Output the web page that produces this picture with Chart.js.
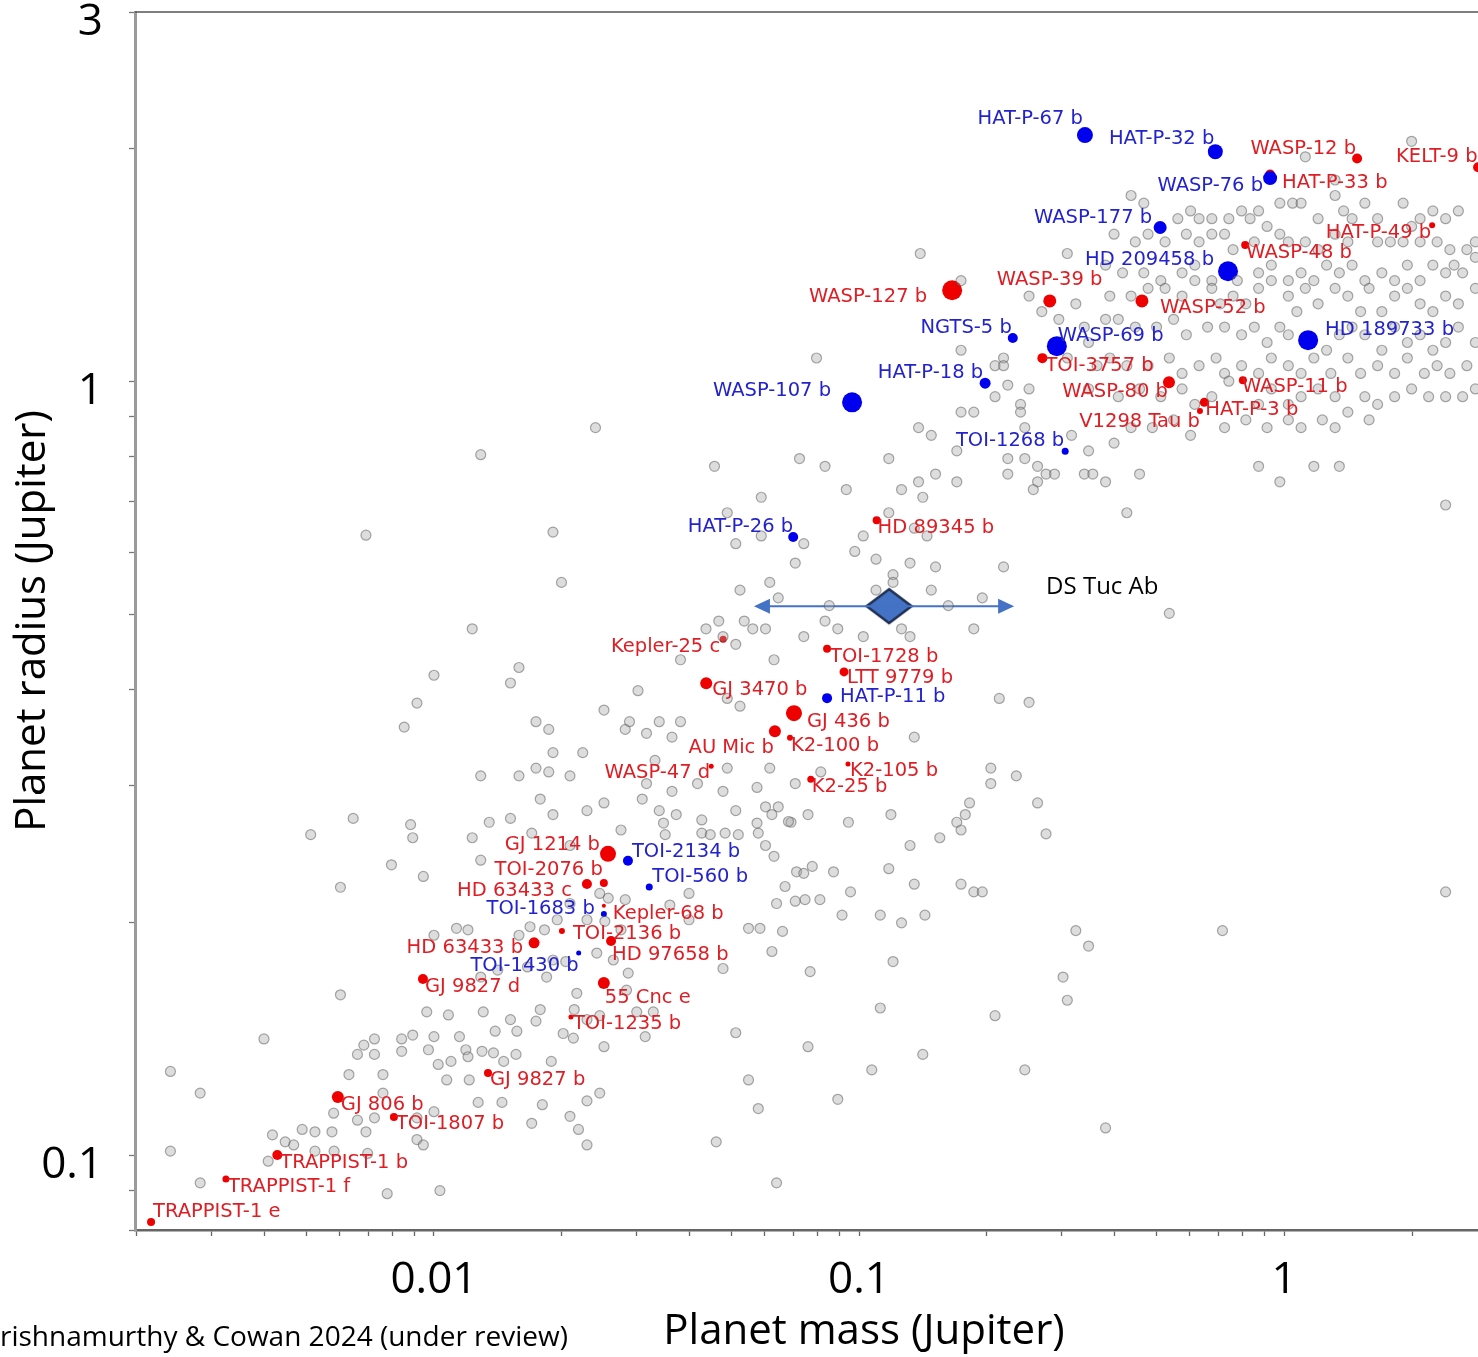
<!DOCTYPE html>
<html>
<head>
<meta charset="utf-8">
<script src="https://cdn.jsdelivr.net/npm/chart.js@4.4.1/dist/chart.umd.min.js"></script>
<style>
html,body{margin:0;padding:0;background:#fff;overflow:hidden;}
#wrap{position:relative;width:1600px;height:1357px;}
</style>
</head>
<body>
<div id="wrap"><canvas id="c" width="1600" height="1357"></canvas></div>
<script>
// ---- Background planets: [log10 mass (MJ), log10 radius (RJ)] ----
const greyUpper = [
[-0.36,0.24],[-0.33,0.23],[-0.22,0.22],[-0.25,0.21],[-0.20,0.21],[-0.17,0.21],[-0.13,0.21],[-0.10,0.22],[-0.08,0.21],[-0.06,0.22],[-0.01,0.23],[0.02,0.23],[0.04,0.23],[0.08,0.21],[0.12,0.24],[0.14,0.22],[0.16,0.21],[0.19,0.23],[0.22,0.21],[0.28,0.23],[0.30,0.20],[0.32,0.21],[0.35,0.22],[0.38,0.21],[0.41,0.22],[0.05,0.29],[0.30,0.31],[0.12,0.26],
[-0.40,0.19],[-0.35,0.18],[-0.32,0.19],[-0.28,0.18],[-0.23,0.19],[-0.20,0.18],[-0.17,0.19],[-0.14,0.19],[-0.12,0.17],[-0.07,0.18],[-0.04,0.20],[-0.01,0.19],[0.01,0.18],[0.05,0.18],[0.08,0.17],[0.12,0.19],[0.15,0.18],[0.22,0.18],[0.25,0.18],[0.28,0.18],[0.32,0.18],[0.36,0.18],[0.39,0.17],[0.43,0.17],[0.45,0.18],
[-0.42,0.15],[-0.38,0.14],[-0.33,0.14],[-0.29,0.13],[-0.24,0.14],[-0.21,0.15],[-0.17,0.13],[-0.11,0.13],[-0.06,0.14],[-0.03,0.15],[0.01,0.13],[0.04,0.14],[0.07,0.13],[0.10,0.15],[0.13,0.14],[0.16,0.15],[0.19,0.13],[0.23,0.14],[0.26,0.13],[0.29,0.15],[0.32,0.13],[0.35,0.15],[0.38,0.14],[0.40,0.15],[0.42,0.14],[0.45,0.16],
[-0.41,0.11],[-0.36,0.11],[-0.32,0.12],[-0.28,0.12],[-0.24,0.11],[-0.21,0.13],[-0.17,0.12],[-0.15,0.10],[-0.12,0.11],[-0.09,0.10],[-0.06,0.12],[-0.03,0.13],[0.01,0.11],[0.03,0.09],[0.05,0.12],[0.08,0.10],[0.12,0.12],[0.15,0.11],[0.18,0.09],[0.20,0.12],[0.23,0.09],[0.26,0.11],[0.29,0.12],[0.32,0.10],[0.35,0.09],[0.38,0.11],[0.41,0.10],[0.45,0.12],
[-0.42,0.08],[-0.39,0.08],[-0.35,0.07],[-0.30,0.07],[-0.26,0.08],[-0.23,0.06],[-0.18,0.07],[-0.14,0.07],[-0.10,0.06],[-0.07,0.07],[-0.04,0.05],[-0.01,0.07],[0.01,0.06],[0.10,0.04],[0.13,0.06],[0.16,0.07],[0.19,0.06],[0.23,0.04],[0.26,0.07],[0.29,0.05],[0.32,0.06],[0.35,0.04],[0.38,0.05],[0.41,0.07],[0.45,0.05],
[-0.41,0.03],[-0.37,0.02],[-0.32,0.02],[-0.27,0.03],[-0.24,0.01],[-0.20,0.02],[-0.16,0.03],[-0.14,0.01],[-0.10,0.02],[-0.06,0.01],[-0.03,0.03],[0.01,0.02],[0.04,0.01],[0.07,0.03],[0.11,0.01],[0.15,0.03],[0.18,0.01],[0.22,0.02],[0.26,0.01],[0.29,0.03],[0.33,0.01],[0.36,0.02],[0.39,0.01],[0.43,0.02],
[-0.39,-0.02],[-0.34,-0.01],[-0.29,-0.02],[-0.24,-0.01],[-0.21,-0.03],[-0.17,-0.02],[-0.13,0.00],[-0.06,-0.03],[-0.03,-0.01],[0.01,-0.03],[0.04,-0.02],[0.08,-0.01],[0.12,-0.02],[0.15,-0.04],[0.19,-0.02],[0.22,-0.03],[0.26,-0.02],[0.30,-0.01],[0.34,-0.02],[0.38,-0.02],[0.42,-0.02],[0.45,-0.01],
[-0.40,-0.08],[-0.36,-0.06],[-0.31,-0.06],[-0.26,-0.05],[-0.22,-0.07],[-0.14,-0.06],[-0.09,-0.05],[-0.04,-0.06],[0.01,-0.05],[0.04,-0.06],[0.09,-0.05],[0.12,-0.06],[0.20,-0.05],
[-0.34,-0.12],[-0.42,-0.13],[-0.37,-0.17],[-0.06,-0.11],[-0.01,-0.13],[0.07,-0.11],[0.13,-0.11],[0.38,-0.16],
[-0.51,0.165],[-0.53,0.08],[-0.49,0.10],[-0.47,0.07],[-0.46,0.05],[-0.46,-0.01],[-0.51,0.03],[-0.44,0.02],[-0.856,0.165]
];
const greyMiddle = [
[-0.76,0.13],[-0.60,0.11],[-0.57,0.09],[-0.76,0.04],[-0.66,0.03],[-0.68,0.02],[-0.66,0.02],[-0.65,-0.005],[-0.60,-0.01],[-0.68,-0.02],[-0.62,-0.03],[-0.73,-0.04],[-0.76,-0.04],[-0.62,-0.04],[-0.61,-0.06],[-0.86,-0.06],[-0.83,-0.07],[-0.77,-0.09],[-0.65,-0.10],[-0.61,-0.10],[-0.58,-0.11],[-0.56,-0.12],[-0.65,-0.12],[-0.58,-0.13],[-0.59,-0.14],[-0.82,-0.12],[-0.77,-0.13],[-0.86,-0.13],[-0.90,-0.14],[-0.85,-0.15],[-0.93,-0.10],[-1.03,-0.14],[-1.08,-0.11],[-1.14,-0.10],[-1.34,-0.11],[-1.23,-0.15],[-1.62,-0.06],[-1.10,0.03],[-0.99,-0.20],[-1.01,-0.22],[-0.93,-0.17],[-1.29,-0.21],[-1.23,-0.20],[-1.13,-0.21],[-0.87,-0.19],[-0.84,-0.20],
[-0.46,-0.09],[-0.50,-0.07],[-0.47,-0.12],[-0.45,-0.12],[-0.54,-0.12],[-0.96,-0.23],[-0.88,-0.235],[-0.82,-0.24],[-0.66,-0.24],[-0.92,-0.25],[-0.92,-0.26],[-0.96,-0.27],[-0.83,-0.27],[-0.90,-0.32],[-0.88,-0.33],[-0.99,-0.33],[-0.79,-0.29],[-0.71,-0.28],[-0.73,-0.32],[-0.27,-0.30],[-0.67,-0.41],[-0.60,-0.415],[-0.87,-0.46],[-0.69,-0.50],[-0.69,-0.52],[-0.63,-0.51],[-0.58,-0.545],[-0.74,-0.545],[-0.75,-0.56],[-0.77,-0.57],[-0.76,-0.58],[-0.56,-0.585],[-0.925,-0.56],[-1.025,-0.57],[-0.81,-0.59],[-0.88,-0.60],[-0.93,-0.63],[-0.87,-0.65],[-0.76,-0.65],[-0.73,-0.66],[-0.71,-0.66],[-1.02,-0.66],[-1.04,-0.69],[-0.95,-0.69],[-0.90,-0.70],[-0.845,-0.69],[-0.49,-0.71],[-0.46,-0.73],[-0.145,-0.71],[0.38,-0.66],[-0.92,-0.75],[-0.52,-0.77],[-0.51,-0.80],[-0.95,-0.81],[-0.68,-0.82],[-0.85,-0.87],[-0.97,-0.89],[-0.61,-0.89],[-0.42,-0.965],
[-1.89,-0.095],[-1.72,-0.195],[-1.31,-0.17],[-1.15,-0.235],[-1.70,-0.26],[-1.28,-0.27],[-1.21,-0.26],[-1.19,-0.28],[-1.07,-0.29],[-1.91,-0.32],[-1.36,-0.32],[-1.33,-0.31],[-1.32,-0.33],[-1.27,-0.31],[-1.25,-0.32],[-1.22,-0.32],[-1.13,-0.33],[-1.08,-0.31],[-1.05,-0.32],[-1.29,-0.34],[-1.42,-0.36],[-1.20,-0.36],[-2.00,-0.38],[-1.82,-0.39],[-1.80,-0.37],[-1.52,-0.40],[-1.31,-0.41],[-1.28,-0.42],[-1.60,-0.425],[-1.76,-0.44],[-1.73,-0.45],[-1.54,-0.44],[-1.47,-0.44],[-1.42,-0.44],[-1.55,-0.45],[-1.50,-0.455],[-1.44,-0.46],[-1.72,-0.48],[-1.65,-0.48],[-1.89,-0.51],[-1.80,-0.51],[-1.76,-0.50],[-1.73,-0.505],[-1.68,-0.51],[-1.48,-0.49],[-1.50,-0.52],[-1.60,-0.545],[-1.44,-0.53],[-1.38,-0.52],[-1.32,-0.53],[-1.31,-0.50],[-1.24,-0.525],[-1.21,-0.50],[-1.15,-0.52],[-1.09,-0.505],[-1.75,-0.54],[-1.72,-0.56],[-1.82,-0.565],[-1.87,-0.57],[-1.64,-0.555],[-1.51,-0.54],[-1.47,-0.555],[-1.43,-0.56],[-1.37,-0.567],[-1.29,-0.555],[-1.22,-0.55],[-1.205,-0.56],[-1.19,-0.55],[-1.16,-0.57],[-1.12,-0.56],
[-2.04,-0.416],[-2.07,-0.447],[-2.19,-0.565],[-2.16,-0.199]
];
const greyLower = [
[-2.29,-0.586],[-2.055,-0.573],[-2.05,-0.59],[-2.10,-0.625],[-2.22,-0.654],[-2.22,-0.793],[-2.40,-0.85],[-2.14,-0.85],[-2.165,-0.858],[-2.18,-0.87],[-2.14,-0.87],[-2.076,-0.85],[-2.05,-0.845],[-2.076,-0.866],[-2.20,-0.896],[-2.12,-0.896],[-2.62,-0.892],[-2.55,-0.92],[-2.236,-0.946],[-2.18,-0.955],[-2.16,-0.97],[-2.14,-0.952],[-2.12,-0.92],[-2.04,-0.952],[-2.04,-0.98],[-2.31,-0.967],[-2.28,-0.97],[-2.24,-0.97],[-2.38,-0.974],[-2.35,-0.983],[-2.33,-0.987],[-2.28,-0.995],[-2.39,-1.008],[-2.235,-0.995],[-2.156,-0.998],[-2.62,-0.995],[-2.55,-1.036],[-2.11,-1.05],
[-2.025,-0.987],[-1.986,-1.046],[-1.896,-0.932],[-1.84,-0.932],[-1.745,-0.935],[-1.64,-0.93],[-1.61,-0.92],[-1.68,-0.95],[-1.66,-0.967],[-1.64,-0.987],[-1.77,-0.959],[-2.00,-0.944],[-1.97,-0.903],[-1.917,-0.903],[-1.724,-0.879],[-1.836,-0.879],[-1.99,-0.883],[-1.96,-0.879],[-1.925,-0.864],[-1.92,-0.873],[-1.887,-0.866],[-1.86,-0.868],[-1.807,-0.87],[-2.013,-0.864],
[-1.91,-0.59],[-2.025,-0.64],[-1.89,-0.619],[-1.77,-0.584],[-1.68,-0.60],[-1.56,-0.58],[-1.61,-0.662],[-1.55,-0.67],[-1.68,-0.675],[-1.774,-0.705],[-1.80,-0.716],[-1.74,-0.709],[-1.71,-0.696],[-1.64,-0.696],[-1.598,-0.698],[-1.56,-0.709],[-2.00,-0.716],[-1.947,-0.707],[-1.92,-0.709],[-1.617,-0.739],[-1.578,-0.748],[-1.543,-0.765],[-1.78,-0.757],[-1.72,-0.748],[-1.69,-0.75],[-1.735,-0.77],[-1.89,-0.77],[-1.85,-0.761],[-1.664,-0.791],[-1.547,-0.787],[-1.67,-0.812],[-1.64,-0.825],[-1.61,-0.82],[-1.523,-0.815],[-1.76,-0.827],[-1.75,-0.812],[-1.82,-0.825],[-1.884,-0.815],[-2.017,-0.815],[-1.966,-0.819],[-1.856,-0.84],[-1.805,-0.84],[-1.696,-0.843],[-1.672,-0.849],[-1.60,-0.86],[-1.94,-0.847],[-2.00,-0.847],[-1.59,-0.668],
[-1.46,-0.571],[-1.456,-0.586],[-1.37,-0.584],[-1.35,-0.586],[-1.315,-0.584],[-1.284,-0.586],[-1.24,-0.571],[-1.237,-0.584],[-1.22,-0.60],[-1.20,-0.614],[-1.166,-0.569],[-1.147,-0.634],[-1.13,-0.636],[-1.11,-0.627],[-1.06,-0.634],[-1.174,-0.653],[-1.194,-0.675],[-1.15,-0.672],[-1.127,-0.67],[-1.092,-0.67],[-1.26,-0.707],[-1.233,-0.707],[-1.18,-0.711],[-1.205,-0.737],[-1.115,-0.763],[-1.32,-0.759],[-1.29,-0.842],[-1.12,-0.86],[-1.26,-0.903],[-1.05,-0.928],[-1.237,-0.94],[-1.336,-0.983],[-1.194,-1.036],[-1.40,-0.662],[-1.445,-0.677],[-1.40,-0.696],[-1.503,-0.847],[-1.484,-0.815]
];

// ---- Highlighted planets (mass in MJ, radius in RJ) ----
const redNames = ['WASP-12 b','KELT-9 b','HAT-P-33 b','HAT-P-49 b','WASP-48 b','WASP-39 b','WASP-127 b','WASP-52 b','TOI-3757 b','WASP-80 b','WASP-11 b','HAT-P-3 b','V1298 Tau b','HD 89345 b','Kepler-25 c','TOI-1728 b','LTT 9779 b','GJ 3470 b','GJ 436 b','AU Mic b','K2-100 b','K2-105 b','K2-25 b','WASP-47 d','GJ 1214 b','TOI-2076 b','HD 63433 c','Kepler-68 b','TOI-2136 b','HD 97658 b','HD 63433 b','GJ 9827 d','55 Cnc e','TOI-1235 b','GJ 9827 b','GJ 806 b','TOI-1807 b','TRAPPIST-1 b','TRAPPIST-1 f','TRAPPIST-1 e'];
const redMass = [1.485,2.86,0.927,2.23,0.81,0.281,0.1656,0.463,0.27,0.536,0.80,0.649,0.634,0.110,0.0479,0.0841,0.0922,0.0437,0.0703,0.0634,0.0688,0.0942,0.077,0.0449,0.02567,0.0251,0.0229,0.0251,0.0200,0.0261,0.0172,0.00942,0.0251,0.0210,0.0134,0.00594,0.00805,0.00428,0.00324,0.00216];
const redRadius = [1.94,1.89,1.85,1.59,1.50,1.27,1.311,1.27,1.071,0.997,1.003,0.939,0.915,0.661,0.464,0.451,0.421,0.407,0.3724,0.353,0.346,0.320,0.306,0.318,0.245,0.2246,0.224,0.210,0.1948,0.189,0.188,0.1688,0.1668,0.1508,0.1276,0.1188,0.112,0.100,0.0931,0.0819];

const blueNames = ['HAT-P-67 b','HAT-P-32 b','WASP-76 b','WASP-177 b','HD 209458 b','NGTS-5 b','WASP-69 b','HD 189733 b','HAT-P-18 b','WASP-107 b','TOI-1268 b','HAT-P-26 b','HAT-P-11 b','TOI-2134 b','TOI-560 b','TOI-1683 b','TOI-1430 b'];
const blueMass = [0.340,0.689,0.927,0.511,0.738,0.230,0.292,1.139,0.198,0.0963,0.3055,0.070,0.0841,0.0286,0.0321,0.0251,0.0219];
const blueRadius = [2.08,1.98,1.83,1.58,1.387,1.137,1.11,1.13,0.994,0.939,0.812,0.629,0.3894,0.240,0.222,0.2048,0.1824];

const dsTucName = 'DS Tuc Ab';
const dsTucMass = [0.1177];
const dsTucRadius = [0.512];
const dsTucMassRange = [0.0566, 0.2317];

// ---- Axis ticks ----
const xTickValues = [0.002,0.003,0.004,0.005,0.006,0.007,0.008,0.009,0.01,0.02,0.03,0.04,0.05,0.06,0.07,0.08,0.09,0.1,0.2,0.3,0.4,0.5,0.6,0.7,0.8,0.9,1,2,3,4,5];
const xLabelValues = [0.01, 0.1, 1];
const xLabelTexts = ['0.01', '0.1', '1'];
const yTickValues = [0.08,0.09,0.1,0.2,0.3,0.4,0.5,0.6,0.7,0.8,0.9,1,2,3];
const yLabelValues = [0.1, 1, 3];
const yLabelTexts = ['0.1', '1', '3'];

// ---- Styles (kept apart from data) ----
const redSize = [5,5,5,3,4,6.5,10,6.5,5,6,4,4.5,3,4,3.5,4,4.5,6,8,6,3,2.5,3.5,2.5,8,4,5,2,3,5,5.5,5,6,2.5,4,6,4,5,3.5,4];
const blueSize = [8,7.5,7,6.5,10,5,10,10,5.5,10,3.5,5,5,5,3.5,3,2.5];
// label offsets in px from the marker: [dx, dy, side]; 'L' = text ends at dx, 'R' = text starts at dx
const redLabelPos = [[-1,-10,'L'],[-82,-10,'R'],[12,8,'R'],[-1,8,'L'],[1,8,'R'],[-53,-21,'R'],[-25,7,'L'],[18,7,'R'],[3,8,'R'],[-1,10,'L'],[-1,7,'R'],[1,8,'R'],[0,11,'L'],[1,8,'R'],[-3,8,'L'],[3,8,'R'],[3,6,'R'],[6,7,'R'],[13,9,'R'],[-1,17,'L'],[1,8,'R'],[2,7,'R'],[1,8,'R'],[-1,7,'L'],[-8,-9,'L'],[-1,-13,'L'],[-15,7,'L'],[9,8,'R'],[11,3,'R'],[1,14,'R'],[-11,5,'L'],[2,8,'R'],[1,15,'R'],[2,7,'R'],[2,7,'R'],[3,8,'R'],[2,7,'R'],[3,8,'R'],[2,8,'R'],[2,-10,'R']];
const blueLabelPos = [[-2,-16,'L'],[-1,-13,'L'],[-7,8,'L'],[-8,-10,'L'],[-14,-11,'L'],[-1,-10,'L'],[1,-10,'R'],[17,-10,'R'],[-2,-10,'L'],[-21,-11,'L'],[-1,-10,'L'],[0,-10,'L'],[13,-1,'R'],[4,-9,'R'],[3,-10,'R'],[-9,-5,'L'],[0,13,'L']];

const RED_PT = '#ee0000', BLUE_PT = '#0000ee';
const RED_TXT = 'rgb(222,30,36)', BLUE_TXT = 'rgb(35,35,205)';
const DS_FILL = '#4472C4', DS_EDGE = '#1f2f50';

function toPts(arr) { return arr.map(p => ({x: Math.pow(10, p[0]), y: Math.pow(10, p[1])})); }
function pair(m, r) { return m.map((v, i) => ({x: v, y: r[i]})); }
function labelFor(v, vals, texts) {
  for (let i = 0; i < vals.length; i++) if (Math.abs(v - vals[i]) / vals[i] < 1e-6) return texts[i];
  return '';
}

function diamondCanvas() {
  const c = document.createElement('canvas');
  c.width = 50; c.height = 40;
  const g = c.getContext('2d');
  g.beginPath();
  g.moveTo(25, 3); g.lineTo(47.5, 20); g.lineTo(25, 37); g.lineTo(2.5, 20); g.closePath();
  g.fillStyle = DS_FILL; g.fill();
  g.lineWidth = 2.5; g.strokeStyle = DS_EDGE; g.lineJoin = 'miter'; g.stroke();
  return c;
}

const annotPlugin = {
  id: 'annot',
  afterDatasetDraw(chart, args) {
    if (args.index !== 2) return;
    const xs = chart.scales.x, ys = chart.scales.y, ctx = chart.ctx;
    const y = ys.getPixelForValue(dsTucRadius[0]);
    const x0 = xs.getPixelForValue(dsTucMassRange[0]);
    const x1 = xs.getPixelForValue(dsTucMassRange[1]);
    ctx.save();
    ctx.strokeStyle = DS_FILL; ctx.fillStyle = DS_FILL; ctx.lineWidth = 2;
    ctx.beginPath(); ctx.moveTo(x0 + 10, y); ctx.lineTo(x1 - 10, y); ctx.stroke();
    ctx.beginPath(); ctx.moveTo(x0, y); ctx.lineTo(x0 + 16, y - 7.5); ctx.lineTo(x0 + 16, y + 7.5); ctx.closePath(); ctx.fill();
    ctx.beginPath(); ctx.moveTo(x1, y); ctx.lineTo(x1 - 16, y - 7.5); ctx.lineTo(x1 - 16, y + 7.5); ctx.closePath(); ctx.fill();
    ctx.restore();
  },
  afterDatasetsDraw(chart) {
    const ctx = chart.ctx;
    ctx.save();
    ctx.font = '19.5px "DejaVu Sans"';
    ctx.textBaseline = 'middle';
    const sets = [[1, blueNames, blueLabelPos, BLUE_TXT], [2, redNames, redLabelPos, RED_TXT]];
    sets.forEach(([di, names, pos, col]) => {
      chart.getDatasetMeta(di).data.forEach((el, i) => {
        const [dx, dy, side] = pos[i];
        ctx.fillStyle = col;
        ctx.textAlign = side === 'L' ? 'right' : 'left';
        ctx.fillText(names[i], el.x + dx, el.y + dy);
      });
    });
    const m = chart.getDatasetMeta(3).data[0];
    ctx.font = '24px "Open Sans"';
    ctx.fillStyle = '#000';
    ctx.textAlign = 'left';
    ctx.fillText(dsTucName, m.x + 157, m.y - 19);
    ctx.restore();
  },
  afterDraw(chart) {
    const ctx = chart.ctx, a = chart.chartArea;
    ctx.save();
    ctx.strokeStyle = '#555'; ctx.lineWidth = 1.5;
    ctx.beginPath(); ctx.moveTo(a.left, a.top); ctx.lineTo(a.right, a.top); ctx.stroke();
    ctx.font = '28px "Open Sans"'; ctx.fillStyle = '#000';
    ctx.textAlign = 'right'; ctx.textBaseline = 'middle';
    ctx.fillText('Krishnamurthy & Cowan 2024 (under review)', 568, 1338);
    ctx.restore();
  }
};

function draw() {
  const ctx = document.getElementById('c').getContext('2d');
  new Chart(ctx, {
    type: 'scatter',
    data: {
      datasets: [
        { label: 'Known planets', data: toPts(greyUpper.concat(greyMiddle, greyLower)),
          pointRadius: 5, pointBackgroundColor: 'rgba(160,160,160,0.36)', pointBorderColor: 'rgba(85,85,85,0.5)', pointBorderWidth: 1.2 },
        { label: 'Blue', data: pair(blueMass, blueRadius), pointRadius: blueSize, pointBackgroundColor: BLUE_PT, pointBorderWidth: 0 },
        { label: 'Red', data: pair(redMass, redRadius), pointRadius: redSize, pointBackgroundColor: RED_PT, pointBorderWidth: 0 },
        { label: 'DS Tuc Ab', data: pair(dsTucMass, dsTucRadius), pointStyle: diamondCanvas(), pointRadius: 20 }
      ]
    },
    options: {
      responsive: false, animation: false, devicePixelRatio: 1, events: [],
      layout: { autoPadding: false, padding: { top: 12, left: 0, right: 7, bottom: 0 } },
      plugins: { legend: { display: false }, tooltip: { enabled: false } },
      scales: {
        x: {
          type: 'logarithmic', position: 'bottom', min: 0.00198, max: 5.33,
          afterBuildTicks: s => { s.ticks = xTickValues.map(v => ({ value: v })); },
          afterFit: s => { s.height = 127; s.paddingLeft = 0; s.paddingRight = 0; },
          ticks: { autoSkip: false, maxRotation: 0, minRotation: 0, padding: 18, color: '#000',
            font: { family: 'Open Sans', size: 44 }, callback: v => labelFor(v, xLabelValues, xLabelTexts) },
          grid: { drawOnChartArea: false, drawTicks: true, tickLength: 6, color: '#666', tickWidth: 1.3 },
          border: { display: true, color: '#666', width: 2.5 },
          title: { display: true, text: 'Planet mass (Jupiter)', color: '#000', font: { family: 'Open Sans', size: 42 }, padding: { top: 0, bottom: 0 } }
        },
        y: {
          type: 'logarithmic', position: 'left', min: 0.08, max: 3,
          afterBuildTicks: s => { s.ticks = yTickValues.map(v => ({ value: v })); },
          afterFit: s => { s.width = 135; s.paddingTop = 0; s.paddingBottom = 0; },
          ticks: { autoSkip: false, padding: 26, labelOffset: 10, color: '#000',
            font: { family: 'Open Sans', size: 44 }, callback: v => labelFor(v, yLabelValues, yLabelTexts) },
          grid: { drawOnChartArea: false, drawTicks: true, tickLength: 6, color: '#777', tickWidth: 1.3 },
          border: { display: true, color: '#9a9a9a', width: 3 },
          title: { display: true, text: 'Planet radius (Jupiter)', color: '#000', font: { family: 'Open Sans', size: 42 }, padding: { top: 8, bottom: 0 } }
        }
      }
    },
    plugins: [annotPlugin]
  });
}

Promise.all([
  document.fonts.load('44px "Open Sans"'),
  document.fonts.load('20px "DejaVu Sans"')
]).then(draw, draw);
</script>
</body>
</html>
